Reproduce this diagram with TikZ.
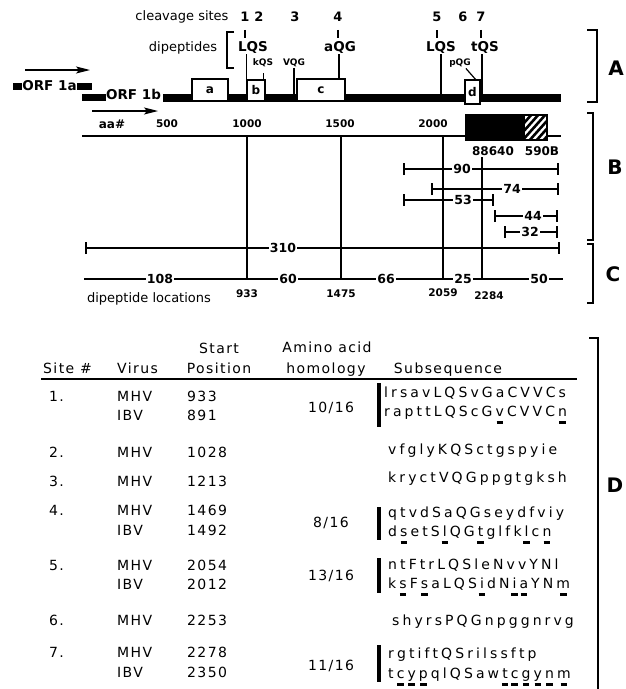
\documentclass[tikz,border=0pt]{standalone}
\usepackage{fontspec}
\setmainfont{DejaVu Sans}
\newfontfamily\tabfont[LetterSpace=10]{DejaVu Sans}
\usetikzlibrary{arrows.meta}

\newcommand\fsz[1]{\fontsize{#1}{#1}\selectfont}
% one residue, plain or with a dash under it
\newcommand\seqpl[1]{\hbox{#1}\kern3.1pt}
\newcommand\seqmk[1]{\setbox0\hbox{#1}\rlap{\kern\dimexpr(\wd0-6.5pt)/2\relax\rule[-8pt]{6.5pt}{3pt}}\box0\kern3.1pt}
% spaced-out subsequence, * marks the next residue
\ExplSyntaxOn
\bool_new:N \l_mymark_bool
\NewDocumentCommand \sq { m }
  {
    \bool_set_false:N \l_mymark_bool
    \tl_map_inline:nn { #1 }
      {
        \str_if_eq:nnTF { ##1 } { * }
          { \bool_set_true:N \l_mymark_bool }
          {
            \bool_if:NTF \l_mymark_bool { \seqmk { ##1 } } { \seqpl { ##1 } }
            \bool_set_false:N \l_mymark_bool
          }
      }
  }
\ExplSyntaxOff

\tikzset{
    lab/.style={font=\fsz{13}, inner sep=1pt},
    num/.style={font=\bfseries\fsz{13}, inner sep=1pt},
    dip/.style={font=\bfseries\fsz{13.5}, inner sep=1pt},
    sdip/.style={font=\bfseries\fsz{9}, inner sep=1pt},
    orf/.style={font=\bfseries\fsz{13.5}, inner sep=0pt},
    tick/.style={font=\bfseries\fsz{10.5}, inner sep=1pt},
    mid/.style={font=\bfseries\fsz{12}, inner sep=1pt},
    lbl/.style={fill=white, font=\bfseries\fsz{12.5}, inner sep=1pt},
    box/.style={draw, line width=1.3pt, fill=white, font=\bfseries\fsz{12}, inner sep=0pt},
    vl/.style={line width=1.6pt},
    rng/.style={line width=1.8pt, {Bar[width=12pt]}-{Bar[width=12pt]}},
    arr/.style={line width=1.2pt, -{Stealth[length=14pt,width=7pt,inset=3pt]}},
    brk/.style={line width=2.4pt},
    sec/.style={font=\bfseries\fsz{20}},
    tab/.style={font=\tabfont\fsz{14}, inner sep=0pt, anchor=base west},
    seq/.style={font=\fsz{14}, inner sep=0pt, anchor=base west},
}

\begin{document}
\begin{tikzpicture}[x=1pt,y=-1pt]
    \fill[white] (0,0) rectangle (626,689);
    \useasboundingbox (0,0) rectangle (626,689);

    % A: ORF 1b with the cleavage sites
    \node[lab] (cleav) at (182,17) {cleavage sites};
    \foreach \n/\x in {1/245,2/259,3/295,4/338,5/437,6/463,7/481}
        \node[num] (s\n) at (\x,17) {\n};
    \node[lab] (dipep) at (183,48) {dipeptides};
    \draw[line width=1.5pt] (234,32) -- (227,32) -- (227,68) -- (234,68);

    \node[dip] (dp1) at (253,47) {LQS};
    \node[sdip] (dp2) at (263,63) {kQS};
    \node[sdip] (dp3) at (294,63) {VQG};
    \node[dip] (dp4) at (340,47) {aQG};
    \node[dip] (dp5) at (441,47) {LQS};
    \node[sdip] (dp6) at (460,63) {pQG};
    \node[dip] (dp7) at (485,47) {tQS};

    \foreach \n/\d in {1/dp1,4/dp4,5/dp5,7/dp7}
        \draw[line width=1.2pt, shorten <=7pt, shorten >=2pt] (s\n.south) -- (s\n.south |- \d.north);

    \fill (163,94) rectangle (561,102);
    \coordinate (bartop) at (0,94);
    \node[box, minimum width=36pt, minimum height=22pt] (boxa) at (210,90) {a};
    \node[box, minimum width=18pt, minimum height=21pt] (boxb) at (256,90.5) {b};
    \node[box, minimum width=48pt, minimum height=22pt] (boxc) at (321,90) {c};
    \node[box, minimum width=15pt, minimum height=24pt] (boxd) at (472.5,92) {d};

    \draw[vl] (dp1.south -| boxb.west) -- (boxb.north west);
    \draw[line width=1.2pt] ([xshift=-2pt]boxb.north east) -- ++(0,-6);
    \draw[vl] (dp3.south) -- (dp3.south |- bartop);
    \draw[vl] ([xshift=-1pt]dp4.south) -- ([xshift=-1pt]dp4.south |- boxc.north);
    \draw[vl] (dp5.south) -- (dp5.south |- bartop);
    \draw[line width=1.2pt] ([xshift=-6pt]dp6.south east) -- ([xshift=3pt]boxd.north);
    \draw[vl] ([xshift=-3pt]dp7.south) -- ([xshift=-3pt]dp7.south |- bartop);

    % ORF 1a / ORF 1b
    \coordinate (a1) at (25,70);
    \coordinate (a2) at (90,70);
    \draw[arr] (a1) -- (a2);
    \fill (13,83) rectangle (22,90);
    \node[orf] (orf1a) at (49.5,86) {ORF 1a};
    \fill (77,83) rectangle (92,90);
    \fill (82,94) rectangle (106,101);
    \node[orf] (orf1b) at (133.5,94) {ORF 1b};
    \coordinate (b1) at (92,111);
    \coordinate (b2) at (158,111);
    \draw[arr] (b1) -- (b2);

    % B: aa scale and clones
    \node[mid] (aa) at (112,124) {aa\#};
    \foreach \v/\x in {500/167,1000/247,1500/340,2000/433}
        \node[tick] (t\v) at (\x,124) {\v};
    \draw[line width=1.5pt] (82,136) -- (561,136);
    \fill (465,114) rectangle (548,141);
    \fill[white] (525,116) rectangle (546,139);
    \begin{scope}
        \clip (525,116) rectangle (546,139);
        \foreach \x in {500,507,...,549}
            \draw[line width=2.6pt] (\x,142) -- (\x+26,113);
    \end{scope}
    \node[mid] (m88) at (493,151) {88640};
    \node[mid] (m590) at (542,151) {590B};

    \foreach \x in {247,341,443}
        \draw[vl] (\x,136) -- (\x,279);
    \draw[vl] (482,157) -- (482,279);

    \foreach \a/\b/\y/\l/\t in {403/559/169/462/90, 431/559/189/512/74, 403/494/200/463/53, 494/558/216/533/44, 504/558/232/530/32}
    {
        \draw[rng] (\a,\y) -- (\b,\y);
        \node[lbl] (r\t) at (\l,\y) {\t};
    }

    % C: dipeptide locations
    \draw[rng] (85,248) -- (560,248);
    \node[lbl] (r310) at (283,248) {310};
    \draw[vl] (84,279) -- (563,279);
    \foreach \t/\x in {108/160, 60/288, 66/386, 25/463, 50/539}
        \node[lbl] (d\t) at (\x,279) {\t};
    \foreach \t/\x/\y in {933/247/294, 1475/341/294, 2059/443/293, 2284/489/296}
        \node[tick] (l\t) at (\x,\y) {\t};
    \node[lab] (dloc) at (149,299) {dipeptide locations};

    % section brackets
    \draw[brk] (587,30) -- (597,30) -- (597,102) -- (587,102);
    \node[sec] (secA) at (616,68) {A};
    \draw[brk] (587,113) -- (593,113) -- (593,240) -- (587,240);
    \node[sec] (secB) at (615,167) {B};
    \draw[brk] (587,244) -- (593,244) -- (593,303) -- (587,303);
    \node[sec] (secC) at (613,274) {C};
    \draw[brk] (589,338) -- (598,338) -- (598,700);
    \node[sec] (secD) at (615,485) {D};

    % D: table
    \node[tab] (hsite) at (43,373) {Site \#};
    \node[tab] (hvir) at (117,373) {Virus};
    \node[tab, anchor=base] (hstart) at (219,353) {Start};
    \node[tab, anchor=base] (hpos) at (219,373) {Position};
    \node[tab, anchor=base] (hamino) at (327,352) {Amino acid};
    \node[tab, anchor=base] (hhom) at (326,373) {homology};
    \node[tab, anchor=base] (hsub) at (448,373) {Subsequence};
    \draw[line width=2.2pt] (41,379) -- (577,379);

    \foreach \i/\y/\p in {1/401/933, 2/457/1028, 3/486/1213, 4/515/1469, 5/570/2054, 6/625/2253, 7/657/2278}
    {
        \node[tab] (site\i) at (49,\y) {\i.};
        \node[tab] (mhv\i) at (117,\y) {MHV};
        \node[tab] (pos\i) at (187,\y) {\p};
    }
    \foreach \i/\y/\p in {1/420/891, 4/535/1492, 5/589/2012, 7/677/2350}
    {
        \node[tab] (ibv\i) at (117,\y) {IBV};
        \node[tab] (ipos\i) at (187,\y) {\p};
    }
    \foreach \i/\y/\h in {1/412/10, 4/527/8, 5/580/13, 7/670/11}
        \node[tab, anchor=base] (hom\i) at (331,\y) {\h/16};

    \foreach \a/\b in {383/427, 507/540, 558/593, 645/682}
        \draw[line width=4pt] (379,\a) -- (379,\b);

    \node[seq] (q1) at (384,397) {\sq{lrsavLQSvGaCVVCs}};
    \node[seq] (iq1) at (384,416) {\sq{rapttLQScG*vCVVC*n}};
    \node[seq] (q2) at (388,454) {\sq{vfglyKQSctgspyie}};
    \node[seq] (q3) at (388,482) {\sq{kryctVQGppgtgksh}};
    \node[seq] (q4) at (388,517) {\sq{qtvdSaQGseydfviy}};
    \node[seq] (iq4) at (388,536) {\sq{d*setS*lQG*tglfk*lc*n}};
    \node[seq] (q5) at (388,569) {\sq{ntFtrLQSleNvvYNl}};
    \node[seq] (iq5) at (388,588) {\sq{k*sF*saLQS*idN*i*aYN*m}};
    \node[seq] (q6) at (392,625) {\sq{shyrsPQGnpggnrvg}};
    \node[seq] (q7) at (388,658) {\sq{rgtiftQSrilssftp}};
    \node[seq] (iq7) at (388,678) {\sq{t*c*y*pqlQSaw*t*c*g*y*n*m}};
\end{tikzpicture}
\end{document}
